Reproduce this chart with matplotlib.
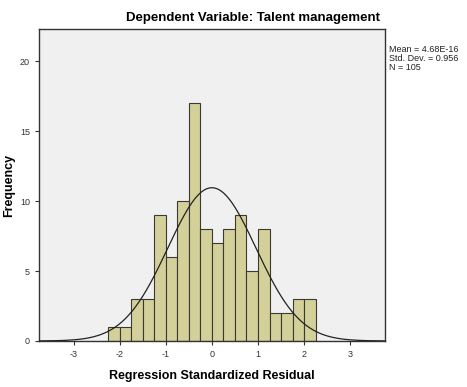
import numpy as np
import matplotlib.pyplot as plt

plt.rcParams['font.family'] = ['Liberation Sans', 'DejaVu Sans']
plt.rcParams['axes.unicode_minus'] = False

# histogram of regression standardized residuals
bin_edges = np.arange(-2.25, 2.2501, 0.25)
counts = [1, 1, 3, 3, 9, 6, 10, 17, 8, 7, 8, 9, 5, 8, 2, 2, 3, 3]
mean = 4.68e-16
std_dev = 0.956
n = 105

fig = plt.figure(figsize=(4.67, 3.87), dpi=100)
ax = fig.add_axes([0.0835, 0.119, 0.7405, 0.806])
ax.set_facecolor('#f0f0f0')

ax.bar(bin_edges[:-1], counts, width=np.diff(bin_edges), align='edge',
       color='#d4d09a', edgecolor='#3a3a30', linewidth=0.8, zorder=2)

# fitted normal curve (SPSS overlay)
x = np.linspace(-3.75, 3.75, 400)
bw = bin_edges[1] - bin_edges[0]
y = n * bw * np.exp(-0.5 * ((x - mean) / std_dev) ** 2) / (std_dev * np.sqrt(2 * np.pi))
ax.plot(x, y, color='#222222', linewidth=0.9, zorder=3)

ax.set_xlim(-3.75, 3.75)
ax.set_ylim(0, 22.3)
ax.set_xticks([-3, -2, -1, 0, 1, 2, 3])
ax.set_yticks([0, 5, 10, 15, 20])
ax.tick_params(labelsize=6.5, length=3, width=0.8, colors='#333333')
for s in ax.spines.values():
    s.set_color('#333333')
    s.set_linewidth(1.0)

ax.set_xlabel('Regression Standardized Residual', fontsize=9, fontweight='bold', labelpad=8)
ax.set_ylabel('Frequency', fontsize=9, fontweight='bold')
ax.yaxis.set_label_coords(-0.068, 0.5)
fig.text(0.542, 0.953, 'Dependent Variable: Talent management', fontsize=9.5,
         fontweight='bold', ha='center', va='center')

fig.text(0.833, 0.885, 'Mean = 4.68E-16\nStd. Dev. = 0.956\nN = 105',
         fontsize=6.5, va='top', ha='left', linespacing=1.0, color='#222222')

fig.savefig('out.png', dpi=100)
